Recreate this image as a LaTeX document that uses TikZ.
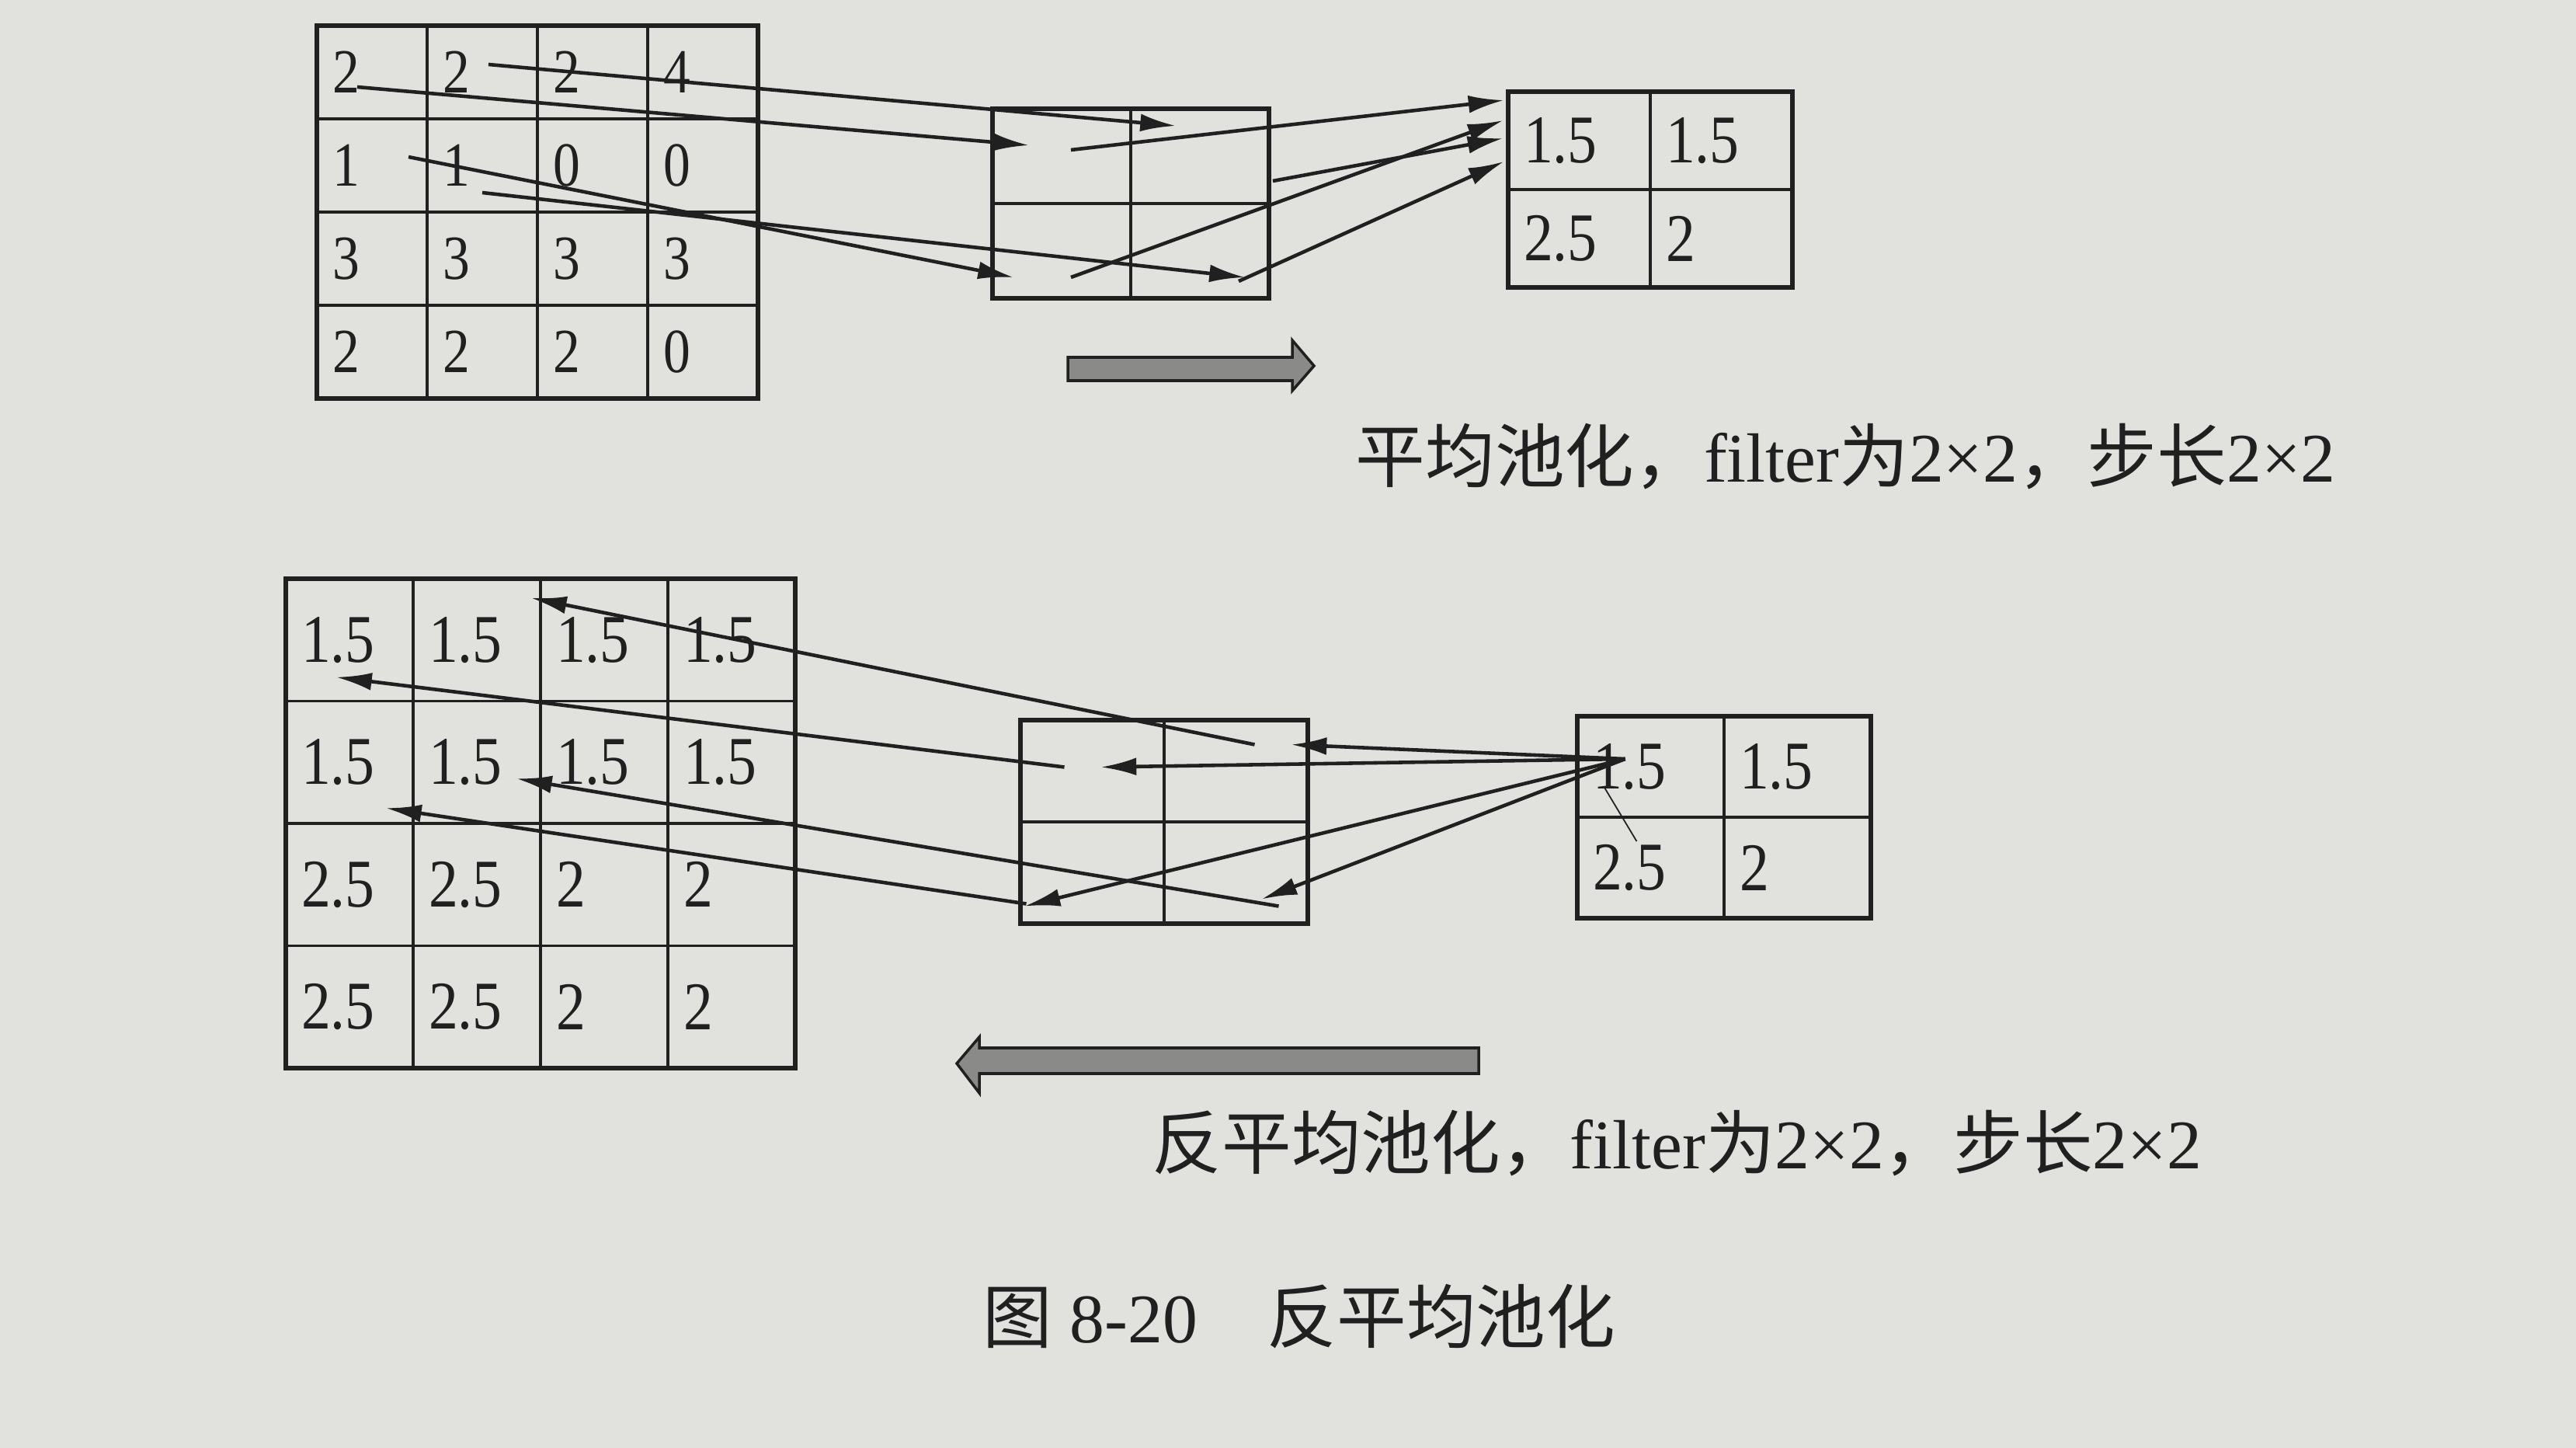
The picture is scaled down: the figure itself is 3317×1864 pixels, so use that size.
\documentclass[tikz,border=0pt]{standalone}
\usepackage{fontspec}
\setmainfont{Liberation Serif}
\newfontfamily\numfont[FakeStretch=0.86]{Liberation Serif}
\newfontfamily\cjk{Noto Sans CJK SC}
\usetikzlibrary{arrows.meta,calc}
\definecolor{paper}{RGB}{225,225,222}
\definecolor{ink}{RGB}{32,32,32}
\definecolor{hatch}{RGB}{138,138,136}
\tikzset{
  cell/.style={draw=ink,line width=1.1pt,outer sep=0pt,inner xsep=0.2cm,
               inner ysep=0pt,align=left,text=ink,
               font=\numfont\fontsize{25pt}{28pt}\selectfont},
  frame/.style={draw=ink,line width=1.6pt},
  fl/.style={draw=ink,line width=1.3pt,-{Latex[length=13pt,width=6.5pt]}},
  thin/.style={draw=ink,line width=0.5pt},
  bigarrow/.style={draw=ink,line width=1pt,fill=hatch,line join=miter},
  lbl/.style={text=ink,anchor=west,inner sep=0pt,
              font=\fontsize{25.5pt}{30pt}\selectfont},
}
% grid of cells: name, x0, y0, cell width, cell height (px), rows
\newcommand{\cellgrid}[6]{%
  \pgfmathsetlengthmacro{\cw}{#4*0.01cm}%
  \pgfmathsetlengthmacro{\chh}{#5*0.01cm}%
  \pgfmathsetlengthmacro{\tw}{#4*0.01cm-0.4cm}%
  \foreach \row [count=\ri] in {#6} {
    \foreach \v [count=\ci] in \row
      \node[cell, minimum width=\cw, minimum height=\chh, text width=\tw]
        (#1-\ri-\ci) at ({#2+#4*(\ci-0.5)},{#3+#5*(\ri-0.5)}) {\v};
  }
}

\begin{document}
\begin{tikzpicture}[x=0.01cm,y=-0.01cm]
\fill[paper] (0,0) rectangle (3317,1864);
\useasboundingbox (0,0) rectangle (3317,1864);

% average pooling
\begin{scope}[cell/.append style={font=\numfont\fontsize{23pt}{26pt}\selectfont}]
\cellgrid{ain}{408}{33}{142}{120}{{2,2,2,4},{1,1,0,0},{3,3,3,3},{2,2,2,0}}
\end{scope}
\cellgrid{amid}{1278}{140}{178}{122}{{{},{}},{{},{}}}
\cellgrid{aout}{1942}{118}{183}{126}{{1.5,1.5},{2.5,2}}
\draw[frame] (ain-1-1.north west) rectangle (ain-4-4.south east);
\draw[frame] (amid-1-1.north west) rectangle (amid-2-2.south east);
\draw[frame] (aout-1-1.north west) rectangle (aout-2-2.south east);

\draw[fl] ([shift={(8,-10)}]ain-1-2.center) -- ([shift={(-31,-39)}]amid-1-2.center);
\draw[fl] ([shift={(-19,19)}]ain-1-1.center) -- ([shift={(-42,-14)}]amid-1-1.center);
\draw[fl] ([shift={(47,-11)}]ain-2-1.center) -- ([shift={(-62,34)}]amid-2-1.center);
\draw[fl] ([shift={(0,35)}]ain-2-2.center) -- ([shift={(58,34)}]amid-2-2.center);
\draw[fl] ([shift={(12,-8)}]amid-1-1.center) -- ([shift={(-97,-52)}]aout-1-1.center);
\draw[fl] ([shift={(94,32)}]amid-1-2.center) -- ([shift={(-98,-3)}]aout-1-1.center);
\draw[fl] ([shift={(12,34)}]amid-2-1.center) -- ([shift={(-98,-26)}]aout-1-1.center);
\draw[fl] ([shift={(50,39)}]amid-2-2.center) -- ([shift={(-97,27)}]aout-1-1.center);

\draw[bigarrow] (1375,460) -- (1664,460) -- (1664,438) -- (1692,471)
  -- (1664,503) -- (1664,490) -- (1375,490) -- cycle;
\node[lbl] (acap) at (1745,588) {{\cjk 平均池化，}filter{\cjk 为}2×2{\cjk ，步长}2×2};

% average unpooling
\cellgrid{bout}{368}{745}{164}{157.5}{{1.5,1.5,1.5,1.5},{1.5,1.5,1.5,1.5},{2.5,2.5,2,2},{2.5,2.5,2,2}}
\cellgrid{bmid}{1314}{927}{185}{131}{{{},{}},{{},{}}}
\cellgrid{bin}{2031}{922}{189}{130}{{1.5,1.5},{2.5,2}}
\draw[frame] (bout-1-1.north west) rectangle (bout-4-4.south east);
\draw[frame] (bmid-1-1.north west) rectangle (bmid-2-2.south east);
\draw[frame] (bin-1-1.north west) rectangle (bin-2-2.south east);

\coordinate (fan) at ([shift={(-33,-10)}]bin-1-1.center);
\draw[fl] (fan) -- ([shift={(71,-34)}]bmid-1-2.center);
\draw[fl] (fan) -- ([shift={(11,-5)}]bmid-1-1.center);
\draw[fl] (fan) -- ([shift={(-87,43)}]bmid-2-1.center);
\draw[fl] (fan) -- ([shift={(33,34)}]bmid-2-2.center);
\draw[thin] ([shift={(-60,26)}]bin-1-1.center) -- ([shift={(-18,96)}]bin-1-1.center);

\draw[fl] ([shift={(24,-34)}]bmid-1-2.center) -- ([shift={(-94,-54)}]bout-1-3.center);
\draw[fl] ([shift={(-36,-5)}]bmid-1-1.center) -- ([shift={(-17,48)}]bout-1-1.center);
\draw[fl] ([shift={(55,43)}]bmid-2-2.center) -- ([shift={(51,21)}]bout-2-2.center);
\draw[fl] ([shift={(-85,40)}]bmid-2-1.center) -- ([shift={(47,59)}]bout-2-1.center);

\draw[bigarrow] (1904,1349) -- (1261,1349) -- (1261,1335) -- (1232,1369)
  -- (1261,1407) -- (1261,1382) -- (1904,1382) -- cycle;
\node[lbl] (bcap) at (1483,1472) {{\cjk 反平均池化，}filter{\cjk 为}2×2{\cjk ，步长}2×2};

\node[lbl] (title) at (1265,1695) {{\cjk 图} 8-20\quad{\cjk 反平均池化}};
\end{tikzpicture}
\end{document}
